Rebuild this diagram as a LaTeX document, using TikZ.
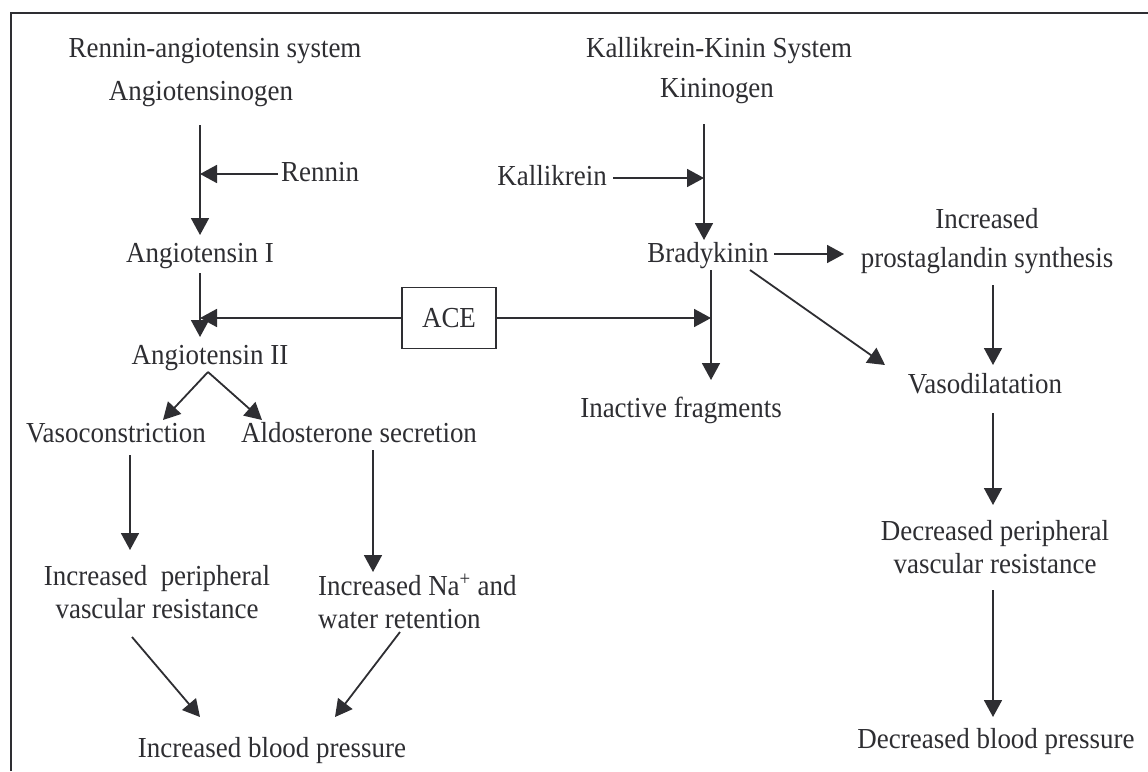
\documentclass[tikz,border=0pt]{standalone}
\usepackage{fontspec}
\setmainfont{Liberation Serif}[FakeStretch=0.93]
\usetikzlibrary{arrows.meta}
\definecolor{ink}{HTML}{2E2E32}
\begin{document}
\begin{tikzpicture}[x=1pt,y=-1pt,
  lbl/.style={anchor=base, inner sep=0pt, text=ink, font=\fontsize{29}{33}\selectfont},
  link/.style={draw=ink, line width=1.8pt},
  arr/.style={link, -{Triangle[length=17pt,width=18pt]}},
  enzbox/.style={draw=ink, line width=1.5pt, minimum width=94pt, minimum height=61pt,
    inner sep=0pt, text=ink, font=\fontsize{29}{33}\selectfont},
]
\useasboundingbox (0,0) rectangle (1148,771);
\fill[white] (0,0) rectangle (1148,771);
% frame
\draw[draw=ink, line width=2.4pt] (11,771) -- (11,13) -- (1148,13);

% renin-angiotensin side
\node[lbl] (ras) at (215,57) {Rennin-angiotensin system};
\node[lbl] (agen) at (201,100) {Angiotensinogen};
\node[lbl, anchor=base west] (renin) at (281,181) {Rennin};
\node[lbl] (ang1) at (200,262) {Angiotensin I};
\node[enzbox] (ace) at (449,318) {ACE};
\node[lbl] (ang2) at (210,364) {Angiotensin II};
\node[lbl] (vaso) at (116,442) {Vasoconstriction};
\node[lbl] (aldo) at (359,442) {Aldosterone secretion};
\node[lbl] (ipr1) at (157,585) {Increased\ \ peripheral};
\node[lbl] (ipr2) at (157,618) {vascular resistance};
\node[lbl, anchor=base west] (na1) at (318,595) {Increased Na\textsuperscript{+} and};
\node[lbl, anchor=base west] (na2) at (318,628) {water retention};
\node[lbl] (ibp) at (272,757) {Increased blood pressure};

% kallikrein-kinin side
\node[lbl] (kks) at (719,57) {Kallikrein-Kinin System};
\node[lbl] (kgen) at (717,97) {Kininogen};
\node[lbl, anchor=base east] (kal) at (607,185) {Kallikrein};
\node[lbl] (brady) at (708,262) {Bradykinin};
\node[lbl] (inact) at (681,417) {Inactive fragments};
\node[lbl] (ipg1) at (987,228) {Increased};
\node[lbl] (ipg2) at (987,267) {prostaglandin synthesis};
\node[lbl] (vdil) at (985,393) {Vasodilatation};
\node[lbl] (dpr1) at (995,540) {Decreased peripheral};
\node[lbl] (dpr2) at (995,573) {vascular resistance};
\node[lbl] (dbp) at (996,748) {Decreased blood pressure};

% connector end points
\coordinate (l0) at (200,125);
\coordinate (lr) at (200,174);
\coordinate (l1) at (200,235);
\coordinate (rn) at (278,174);
\coordinate (l2) at (200,273);
\coordinate (l3) at (200,337);
\coordinate (la) at (200,318);
\coordinate (ra) at (711,318);
\coordinate (k0) at (704,124);
\coordinate (kk) at (704,178);
\coordinate (k1) at (704,240);
\coordinate (kl) at (613,178);
\coordinate (b0) at (711,270);
\coordinate (b1) at (711,380);
\coordinate (bp0) at (774,254);
\coordinate (bp1) at (844,254);
\coordinate (bd0) at (750,270);
\coordinate (bd1) at (885,365);
\coordinate (p0) at (993,285);
\coordinate (p1) at (993,365);
\coordinate (v0) at (993,413);
\coordinate (v1) at (993,505);
\coordinate (d0) at (993,590);
\coordinate (d1) at (993,717);
\coordinate (a2) at (208,372);
\coordinate (a2l) at (163,420);
\coordinate (a2r) at (262,420);
\coordinate (vc0) at (130,455);
\coordinate (vc1) at (130,550);
\coordinate (al0) at (373,450);
\coordinate (al1) at (373,572);
\coordinate (ip0) at (132,637);
\coordinate (ip1) at (200,717);
\coordinate (nw0) at (400,632);
\coordinate (nw1) at (335,717);

% connectors
\draw[arr] (l0) -- (l1);
\draw[arr] (rn) -- (lr);
\draw[arr] (l2) -- (l3);
\draw[arr] (ace.west) -- (la);
\draw[arr] (ace.east) -- (ra);
\draw[arr] (a2) -- (a2l);
\draw[arr] (a2) -- (a2r);
\draw[arr] (vc0) -- (vc1);
\draw[arr] (al0) -- (al1);
\draw[arr] (ip0) -- (ip1);
\draw[arr] (nw0) -- (nw1);
\draw[arr] (k0) -- (k1);
\draw[arr] (kl) -- (kk);
\draw[arr] (b0) -- (b1);
\draw[arr] (bp0) -- (bp1);
\draw[arr] (bd0) -- (bd1);
\draw[arr] (p0) -- (p1);
\draw[arr] (v0) -- (v1);
\draw[arr] (d0) -- (d1);
\end{tikzpicture}
\end{document}
